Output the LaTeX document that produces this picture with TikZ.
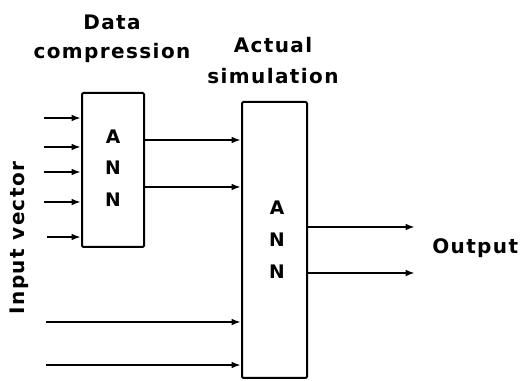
\documentclass[tikz,border=0pt]{standalone}
\usepackage{fontspec}
\setmainfont{DejaVu Sans}[LetterSpace=7]
\usetikzlibrary{arrows.meta}
\begin{document}
\begin{tikzpicture}[x=0.75pt,y=-0.75pt,
  blk/.style={draw,line width=1.5pt,rounded corners=1pt},
  conn/.style={line width=1.4pt,-{Latex[length=7pt,width=5pt]}},
  lbl/.style={font=\fontsize{15}{17}\selectfont\bfseries,inner sep=0pt},
  ann/.style={font=\fontsize{14}{16}\selectfont\bfseries,inner sep=0pt}]
\useasboundingbox (0,0) rectangle (522,381);
% boxes
\node[blk,minimum width=62*0.75pt,minimum height=154*0.75pt,inner sep=0pt] (b1) at (113,170) {};
\node[blk,minimum width=65*0.75pt,minimum height=276*0.75pt,inner sep=0pt] (b2) at (274.5,240) {};
% ANN letters
\node[ann] (a1) at (113,137) {A};
\node[ann] (n1) at (113,168) {N};
\node[ann] (m1) at (113,200) {N};
\node[ann] (a2) at (277,208) {A};
\node[ann] (n2) at (277,240) {N};
\node[ann] (m2) at (277,272) {N};
% labels
\node[lbl] (t1) at (112,22) {Data};
\node[lbl] (t2) at (112,53) {compression};
\node[lbl] (t3) at (273,45) {Actual};
\node[lbl] (t4) at (273,76) {simulation};
\node[lbl,rotate=90] (t5) at (19,238) {Input vector};
\node[lbl,anchor=west] (t6) at (432,248) {Output};
% input coordinates
\coordinate (i1) at (44,118);
\coordinate (i2) at (44,147);
\coordinate (i3) at (44,172);
\coordinate (i4) at (44,202);
\coordinate (i5) at (47,237);
\coordinate (i6) at (46,322);
\coordinate (i7) at (46,365);
\coordinate (o1) at (415,227);
\coordinate (o2) at (415,273);
% arrows into box 1
\draw[conn] (i1) -- (i1 -| b1.west);
\draw[conn] (i2) -- (i2 -| b1.west);
\draw[conn] (i3) -- (i3 -| b1.west);
\draw[conn] (i4) -- (i4 -| b1.west);
\draw[conn] (i5) -- (i5 -| b1.west);
% box1 to box2
\draw[conn] (b1.east |- 0,140) -- (b2.west |- 0,140);
\draw[conn] (b1.east |- 0,187) -- (b2.west |- 0,187);
% bottom inputs
\draw[conn] (i6) -- (i6 -| b2.west);
\draw[conn] (i7) -- (i7 -| b2.west);
% outputs
\draw[conn] (b2.east |- o1) -- (o1);
\draw[conn] (b2.east |- o2) -- (o2);
\end{tikzpicture}
\end{document}
